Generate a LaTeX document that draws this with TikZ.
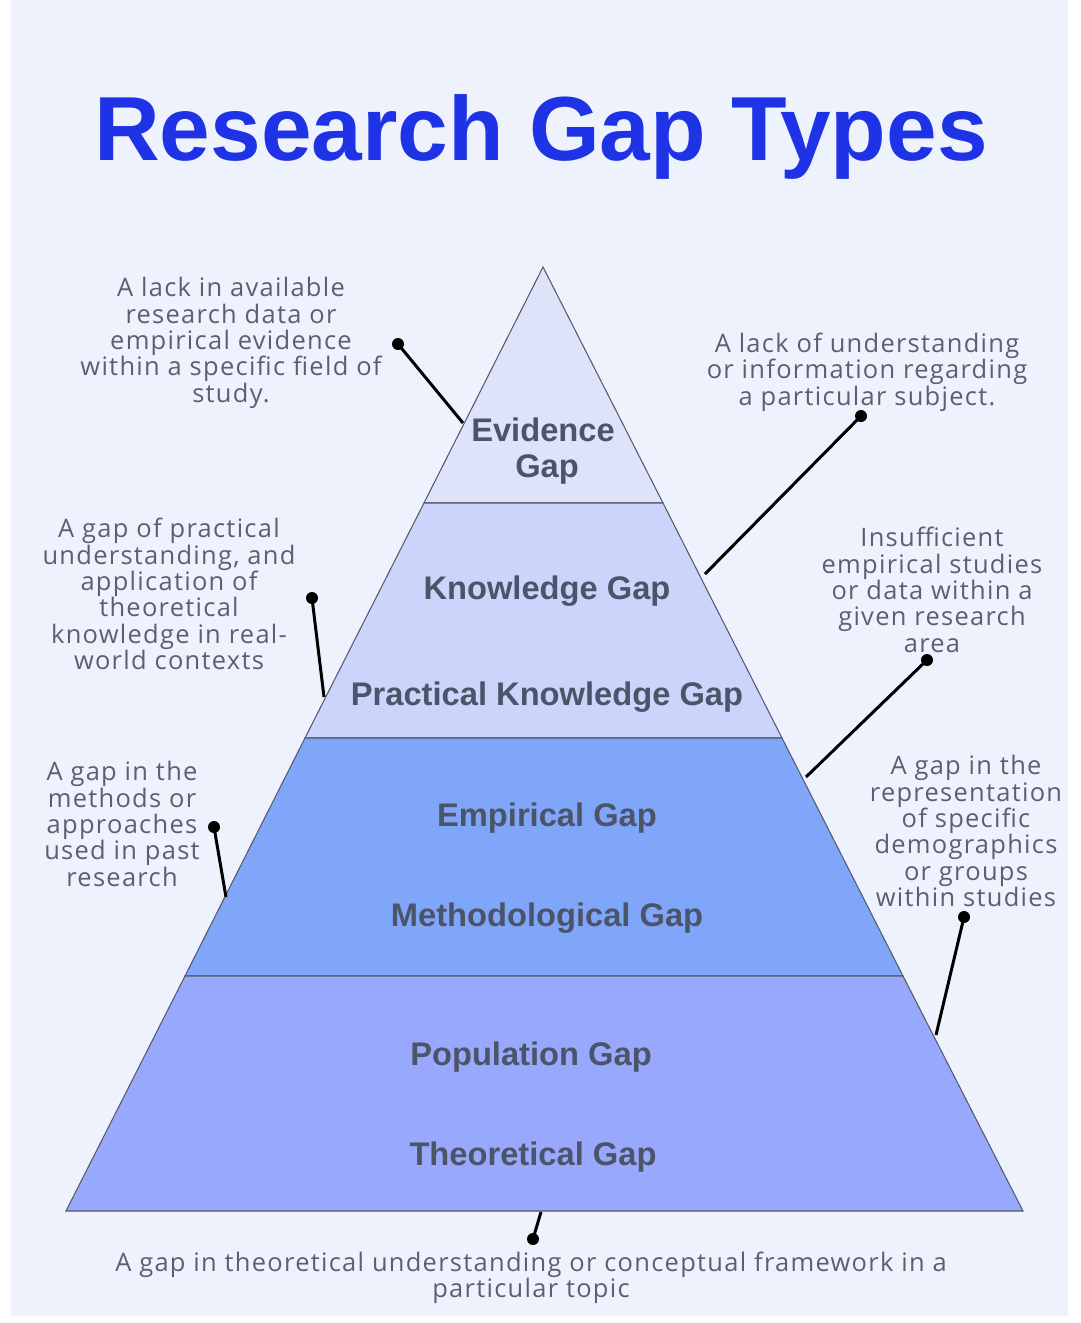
\documentclass[tikz,border=0pt]{standalone}
\usepackage{fontspec}
\setmainfont{Open Sans}[LetterSpace=5]
\setsansfont{Liberation Sans}
\definecolor{bgblue}{RGB}{238,242,252}
\definecolor{titleblue}{RGB}{30,50,230}
\definecolor{descgray}{RGB}{90,96,112}
\definecolor{tiergray}{RGB}{75,84,104}
\definecolor{edgegray}{RGB}{85,90,106}
\definecolor{tierA}{RGB}{222,227,250}
\definecolor{tierB}{RGB}{204,212,252}
\definecolor{tierC}{RGB}{128,166,250}
\definecolor{tierD}{RGB}{152,168,252}

\begin{document}
\begin{tikzpicture}[x=0.02cm,y=-0.02cm,
    desc/.style={align=center,text=descgray,inner sep=0pt,
      font=\fontsize{14.5}{15}\selectfont},
    tier/.style={align=center,text=tiergray,inner sep=0pt,
      font=\sffamily\bfseries\fontsize{18.6}{20.4}\selectfont},
    pin/.style={line width=1.7pt,black},
    edge/.style={draw=edgegray,line width=0.6pt}]
      \useasboundingbox (0,0) rectangle (1080,1323);
      \fill[bgblue] (11,0) rectangle (1068,1316);
      \node[anchor=base,text=titleblue,font=\sffamily\bfseries\fontsize{51.8}{60}\selectfont] (title) at (541,160) {Research Gap Types};
      % pyramid corners
      \coordinate (apex) at (543,267);
      \coordinate (l1) at (424,503); \coordinate (r1) at (663,503);
      \coordinate (l2) at (305,738); \coordinate (r2) at (782,738);
      \coordinate (l3) at (185,976); \coordinate (r3) at (903,976);
      \coordinate (l4) at (66,1211); \coordinate (r4) at (1023,1211);
      \filldraw[edge,fill=tierA] (apex)--(r1)--(l1)--cycle;
      \filldraw[edge,fill=tierB] (l1)--(r1)--(r2)--(l2)--cycle;
      \filldraw[edge,fill=tierC] (l2)--(r2)--(r3)--(l3)--cycle;
      \filldraw[edge,fill=tierD] (l3)--(r3)--(r4)--(l4)--cycle;
      % tier labels
      \node[tier] (evid) at (543,451) {Evidence\\\hspace{0.25em}Gap};
      \node[tier] (know) at (547,591) {Knowledge Gap};
      \node[tier] (prac) at (547,697) {Practical Knowledge Gap};
      \node[tier] (empi) at (547,818) {Empirical Gap};
      \node[tier] (meth) at (547,918) {Methodological Gap};
      \node[tier] (popu) at (531,1057) {Population Gap};
      \node[tier] (theo) at (533,1157) {Theoretical Gap};
      % descriptions
      \node[desc] (evidtxt) at (231,343) {A lack in available\\research data or\\empirical evidence\\within a specific field of\\study.};
      \node[desc] (knowtxt) at (867,372) {A lack of understanding\\or information regarding\\a particular subject.};
      \node[desc] (practxt) at (169,594) {A gap of practical\\understanding, and\\application of\\theoretical\\knowledge in real-\\world contexts};
      \node[desc] (empitxt) at (932,590) {Insufficient\\empirical studies\\or data within a\\given research\\area};
      \node[desc] (methtxt) at (122,824) {A gap in the\\methods or\\approaches\\used in past\\research};
      \node[desc] (poputxt) at (966,831) {A gap in the\\representation\\of specific\\demographics\\or groups\\within studies};
      \node[desc] (theotxt) at (531,1278) {A gap in theoretical understanding or conceptual framework in a\\particular topic};
      % pins
      \coordinate (d1) at (398,344); \coordinate (e1) at (463,423);
      \coordinate (d2) at (861,416); \coordinate (e2) at (705,574);
      \coordinate (d3) at (312,598); \coordinate (e3) at (324,697);
      \coordinate (d4) at (927,660); \coordinate (e4) at (806,777);
      \coordinate (d5) at (214,827); \coordinate (e5) at (226,897);
      \coordinate (d6) at (964,917); \coordinate (e6) at (936,1035);
      \coordinate (d7) at (533,1239); \coordinate (e7) at (541,1212);
      \foreach \i in {1,...,7}{
        \draw[pin] (d\i) -- (e\i);
        \fill (d\i) circle (6);
      }
    \end{tikzpicture}
\end{document}
